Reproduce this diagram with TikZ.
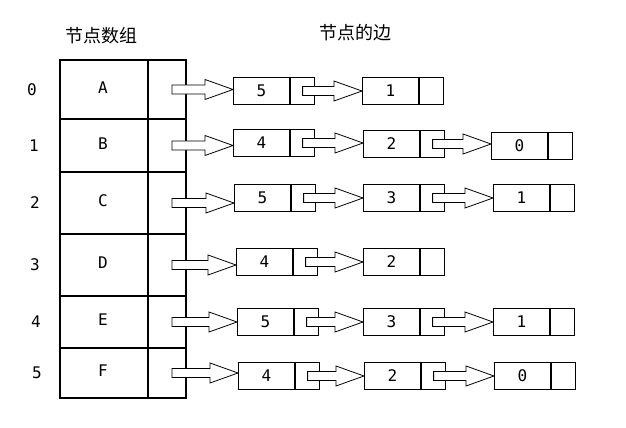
\documentclass[tikz,border=0pt]{standalone}
\usepackage{fontspec}
\setmonofont{DejaVu Sans Mono}
\newfontfamily\cjk{Noto Sans CJK SC}
\usetikzlibrary{calc}
\begin{document}
\begin{tikzpicture}[x=0.75pt,y=-0.75pt,
  box/.style={draw,line width=0.8pt,inner sep=0,minimum height=20.4pt,font=\ttfamily\fontsize{12}{12}\selectfont},
  val/.style={box,minimum width=42pt},
  ptr/.style={box,minimum width=18pt},
  arr/.style={draw,line width=0.6pt,fill=white},
  lbl/.style={font=\ttfamily\fontsize{12}{12}\selectfont}]
\useasboundingbox[fill=white] (0,0) rectangle (626,428);
\newcommand\barrow[2]{\draw[arr] let \p1=(#1),\p2=(#2) in (\x1,\y1-3.4pt) -- (\x2-21pt,\y1-3.4pt) -- (\x2-21pt,\y1-7.5pt) -- (\x2,\y1) -- (\x2-21pt,\y1+7.5pt) -- (\x2-21pt,\y1+3.4pt) -- (\x1,\y1+3.4pt) -- cycle;}
\newcommand\cell[4]{\node[val,anchor=west] (#1) at (#2,#3) {#4}; \node[ptr,anchor=west] (#1p) at (#1.east) {};}
\node[font=\cjk\fontsize{13.5}{13.5}\selectfont] (h1) at (101,36) {节点数组};
\node[font=\cjk\fontsize{13.5}{13.5}\selectfont] (h2) at (355,33) {节点的边};
% table
\foreach \n/\t/\b/\l/\lx in {0/60/119/A/32,1/119/172/B/34,2/172/234/C/35,3/234/296/D/35,4/296/348/E/36,5/348/398/F/37}{
  \draw[line width=0.8pt] (60,\t) rectangle (148,\b);
  \draw[line width=0.8pt] (148,\t) rectangle (186,\b);
  \node[lbl] (d\n) at (103,{(\t+\b)/2-2}) {\l};
  \coordinate (t\n) at (172,{(\t+\b)/2}) ;
  \node[lbl] (i\n) at (\lx,{(\t+\b)/2}) {\n};
}
\cell{a1}{233}{91}{5}\cell{a2}{362}{91}{1}
\cell{b1}{233}{143}{4}\cell{b2}{363}{144}{2}\cell{b3}{491}{146}{0}
\cell{c1}{234}{198}{5}\cell{c2}{363}{198}{3}\cell{c3}{493}{198}{1}
\cell{d1}{236}{262}{4}\cell{d2}{363}{262}{2}
\cell{e1}{237}{322}{5}\cell{e2}{363}{322}{3}\cell{e3}{493}{322}{1}
\cell{f1}{238}{376}{4}\cell{f2}{364}{376}{2}\cell{f3}{494}{376}{0}
\barrow{t0}{a1.west}\barrow{a1p.center}{a2.west}
\barrow{t1}{b1.west}\barrow{b1p.center}{b2.west}\barrow{b2p.center}{b3.west}
\barrow{t2}{c1.west}\barrow{c1p.center}{c2.west}\barrow{c2p.center}{c3.west}
\barrow{t3}{d1.west}\barrow{d1p.center}{d2.west}
\barrow{t4}{e1.west}\barrow{e1p.center}{e2.west}\barrow{e2p.center}{e3.west}
\barrow{t5}{f1.west}\barrow{f1p.center}{f2.west}\barrow{f2p.center}{f3.west}
\end{tikzpicture}
\end{document}
